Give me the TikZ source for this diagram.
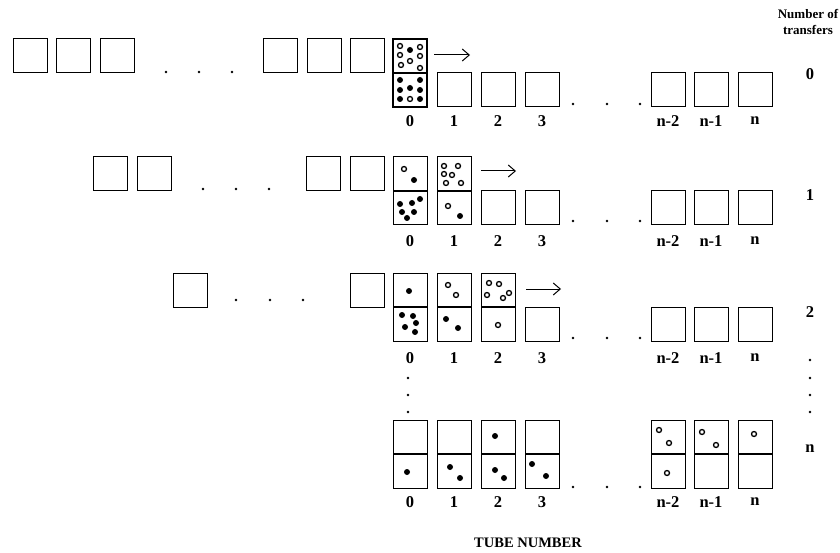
\documentclass[tikz,border=0pt]{standalone}
\usepackage{fontspec}
\setmainfont{Liberation Serif}
\usetikzlibrary{arrows.meta}
\newcommand\sqbox[2]{\draw[boxline] (#1,#2) rectangle ++(34,34);}
\newcommand\fulltube[2]{\draw[boxline] (#1,#2) rectangle ++(34,68);\draw[midline] (#1,{#2+34}) -- ++(34,0);}
\newcommand\fd[2]{\fill (#1,#2) circle (3pt);}
\newcommand\od[2]{\draw[line width=1.3pt] (#1,#2) circle (2.5pt);}
\newcommand\sdot[2]{\fill (#1,#2) circle (1.3pt);}
\begin{document}
\begin{tikzpicture}[x=1pt,y=-1pt,
  boxline/.style={line width=1pt},
  midline/.style={line width=1.7pt},
  lbl/.style={font=\fontsize{16.5}{16.5}\selectfont\bfseries, inner sep=0},
  hdr/.style={font=\fontsize{13}{15.5}\selectfont\bfseries, inner sep=0, align=center},
  arr/.style={line width=1pt, -{Straight Barb[length=7pt,width=12pt,line width=1pt]}}]
\useasboundingbox (0,0) rectangle (840,553);

% ---------- row 0 ----------
\foreach \x in {13,56,100,263,307,350} {\sqbox{\x}{39}}
\foreach \x in {166,199,232} {\sdot{\x}{72}}
\begin{scope}[boxline/.style={line width=1.5pt}]
\fulltube{393}{39}
\end{scope}
\foreach \x in {437,481,525,651,694,738} {\sqbox{\x}{73}}
\foreach \x in {573,607,640} {\sdot{\x}{104}}
\coordinate (a0s) at (434,55); \coordinate (a0e) at (470,55);
\draw[arr] (a0s) -- (a0e);
\begin{scope}[shift={(393,39)}]
  \od{7}{7}\od{27}{8}\od{7}{16}\od{27}{17}\od{8}{26}\od{17}{22}\od{27}{29}\fd{17}{11}
  \fd{7}{41}\fd{27}{41}\fd{7}{51}\fd{17}{49}\fd{27}{51}\fd{7}{60}\fd{27}{60}\od{17}{60}
\end{scope}
\foreach \x/\t [count=\i] in {410/0,454/1,498/2,542/3,668/n-2,711/n-1,755/n}
  {\node[lbl] (l0\i) at (\x,121) {\t};}

% ---------- row 1 ----------
\foreach \x in {93,137,306,350} {\sqbox{\x}{157}}
\foreach \x in {203,236,269} {\sdot{\x}{189}}
\fulltube{393}{157}
\fulltube{437}{157}
\foreach \x in {481,525,651,694,738} {\sqbox{\x}{191}}
\foreach \x in {573,607,640} {\sdot{\x}{221}}
\coordinate (a1s) at (481,171); \coordinate (a1e) at (516,171);
\draw[arr] (a1s) -- (a1e);
\begin{scope}[shift={(393,157)}]
  \od{11}{12}\fd{21}{23}
  \fd{27}{42}\fd{19}{46}\fd{7}{47}\fd{9}{55}\fd{21}{55}\fd{14}{61}
\end{scope}
\begin{scope}[shift={(437,157)}]
  \od{7}{9}\od{21}{9}\od{7}{17}\od{15}{18}\od{9}{26}\od{24}{26}
  \od{11}{49}\fd{23}{59}
\end{scope}
\foreach \x/\t [count=\i] in {410/0,454/1,498/2,542/3,668/n-2,711/n-1,755/n}
  {\node[lbl] (l1\i) at (\x,241) {\t};}

% ---------- row 2 ----------
\foreach \x in {173,350} {\sqbox{\x}{273}}
\foreach \x in {236,270,303} {\sdot{\x}{300}}
\fulltube{393}{273}
\fulltube{437}{273}
\fulltube{481}{273}
\foreach \x in {525,651,694,738} {\sqbox{\x}{307}}
\foreach \x in {573,607,640} {\sdot{\x}{338}}
\coordinate (a2s) at (526,289); \coordinate (a2e) at (561,289);
\draw[arr] (a2s) -- (a2e);
\begin{scope}[shift={(393,273)}]
  \fd{16}{18}
  \fd{9}{42}\fd{20}{43}\fd{23}{50}\fd{12}{54}\fd{22}{59}
\end{scope}
\begin{scope}[shift={(437,273)}]
  \od{11}{12}\od{19}{22}
  \fd{9}{46}\fd{21}{55}
\end{scope}
\begin{scope}[shift={(481,273)}]
  \od{8}{10}\od{18}{11}\od{6}{22}\od{22}{25}\od{28}{20}
  \od{17}{52}
\end{scope}
\foreach \x/\t [count=\i] in {410/0,454/1,498/2,542/3,668/n-2,711/n-1,755/n}
  {\node[lbl] (l2\i) at (\x,358) {\t};}

% ---------- vertical dots ----------
\foreach \y in {378,395,412} {\sdot{408}{\y}}
\foreach \y in {360,378,395,412} {\sdot{810}{\y}}

% ---------- row 3 ----------
\foreach \x in {393,437,481,525,651,694,738} {\fulltube{\x}{420}}
\foreach \x in {573,607,640} {\sdot{\x}{487}}
\begin{scope}[shift={(393,420)}]
  \fd{14}{52}
\end{scope}
\begin{scope}[shift={(437,420)}]
  \fd{13}{47}\fd{23}{58}
\end{scope}
\begin{scope}[shift={(481,420)}]
  \fd{14}{16}\fd{14}{50}\fd{23}{58}
\end{scope}
\begin{scope}[shift={(525,420)}]
  \fd{7}{44}\fd{21}{56}
\end{scope}
\begin{scope}[shift={(651,420)}]
  \od{8}{10}\od{18}{23}\od{16}{53}
\end{scope}
\begin{scope}[shift={(694,420)}]
  \od{8}{12}\od{22}{25}
\end{scope}
\begin{scope}[shift={(738,420)}]
  \od{16}{14}
\end{scope}
\foreach \x/\t [count=\i] in {410/0,454/1,498/2,542/3,668/n-2,711/n-1,755/n}
  {\node[lbl] (l3\i) at (\x,502) {\t};}

% ---------- right column ----------
\node[hdr] (hd) at (808,22) {Number of\\transfers};
\node[lbl] (t0) at (810,74) {0};
\node[lbl] (t1) at (810,195) {1};
\node[lbl] (t2) at (810,312) {2};
\node[lbl] (tn) at (810,449) {n};

% ---------- axis title ----------
\node[font=\fontsize{14.5}{14.5}\selectfont\bfseries, inner sep=0] (tube) at (528,543) {TUBE NUMBER};
\end{tikzpicture}
\end{document}
